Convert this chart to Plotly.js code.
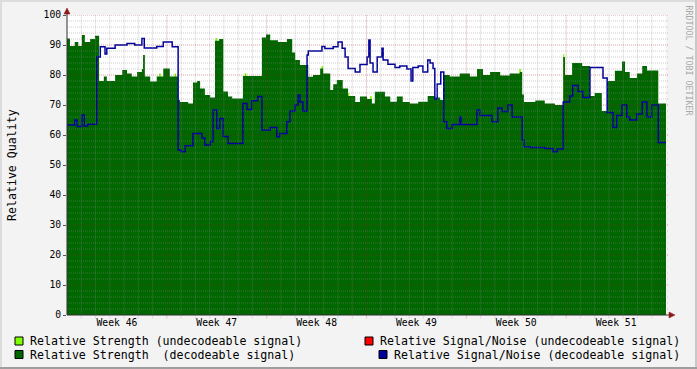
<!DOCTYPE html>
<html>
<head>
<meta charset="utf-8">
<script src="https://cdn.plot.ly/plotly-3.0.1.min.js"></script>
<style>
html,body{margin:0;padding:0;background:#F3F3F3;}
#chart{width:697px;height:369px;}
</style>
</head>
<body>
<div id="chart"></div>
<script>
// Time axis: hours since the start of Week 46 (6 weeks = 1008 h)
const END_HOUR = 1008;
const weekLabels = ['Week 46','Week 47','Week 48','Week 49','Week 50','Week 51'];
const weekCenters = [84, 252, 420, 588, 756, 924];
const yTickVals = [0,10,20,30,40,50,60,70,80,90,100];

// Relative Strength (decodeable signal): change times (h) and values
const strengthT = [0,5,13,19,25,30,39,47,54,62,67,81,93,101,109,118,126,128,131,140,151,162,173,187,190,204,212,219,224,232,241,249,256,263,271,278,296,328,335,342,355,370,379,384,392,406,414,426,431,443,448,454,464,473,485,493,505,513,518,535,544,555,565,577,591,607,619,628,633,644,661,678,690,700,712,729,745,762,766,769,788,804,821,835,838,850,867,880,888,900,909,922,934,939,947,959,968,976,995];
const strengthV = [92.2,89.7,91,89.7,93.3,91,92,93.1,78,79.5,78,80,81.7,80.5,79.5,81,82,86.7,79.5,77.8,79.5,82.2,79.5,71.7,71,70.5,77.5,78,75.5,73.3,72.5,91.4,92,74.5,72.8,72.2,79.7,92.5,93.5,91.6,91,92,87.5,85,83.3,79.4,80,82.2,80.5,75,76.9,78.3,75.5,73,71,72.8,72,70.5,74.4,72.8,71.1,72.8,71,70.5,71.1,73,72.5,71.7,80,79.5,80.5,79.5,82,80,81,79.8,80.5,81,73.5,71,71.5,70.5,70,86,80,84,83,73,74,68,78,81.4,84.5,81,79,80.5,83,81.5,70.5];

// Relative Strength (undecodeable signal): only the spots where it shows
const undecStrengthT = [0,155,158,181,184,250,253,299,302,428,431,472,475,510,513,761,764,835,837];
const undecStrengthV = [0,80.5,0,80.5,0,92.3,0,80.6,0,83,0,74,0,73,0,82,0,87,0];

// Relative Signal/Noise (decodeable signal)
const snrT = [0,13,17,25,29,35,50,56,64,67,81,101,114,126,130,151,162,177,187,192,199,212,227,232,241,246,252,257,263,271,296,303,311,321,328,342,353,358,370,375,384,389,392,397,404,406,429,434,448,456,463,468,473,485,493,505,508,510,515,522,530,532,540,552,560,572,579,582,591,599,607,611,616,619,623,629,634,639,648,661,663,690,695,715,725,732,742,749,766,769,779,804,818,825,835,846,851,860,868,880,902,909,919,925,934,942,947,959,968,976,984,995];
const snrV = [63.3,65,62.8,66.7,63,63.6,86,89.4,87,88.9,90,90.5,90,92.2,89,89.5,91,89.4,55,54.4,56.4,60.5,59,56.7,57.8,68.3,62.2,65.5,59.5,57.2,70.5,68.5,71.4,72.8,61.7,62.5,59.4,60.5,64.4,68,70,73.3,71,68,86.7,88,89.5,88.8,89.4,91,88.9,86,82.2,81,83.5,86,91.7,84,81,86,88.9,85,83.6,82.5,83,82,78,82.5,83,81,85,84,82.2,72,77,81,64.4,62.2,63.5,66,63.5,68.3,66.5,64.4,69,67.8,70,66,58.3,56.1,55.8,55.5,54.4,55.3,71,73,76.5,74.5,72.5,82.5,79,67.5,62.5,66.5,70,66,65,67,71,66,70,57.5];

const seriesNames = [
  'Relative Strength (undecodeable signal)',
  'Relative Signal/Noise (undecodeable signal)',
  'Relative Strength\u00a0 (decodeable signal)',
  'Relative Signal/Noise (decodeable signal)'
];
const seriesColors = ['#80FF00', '#FF0000', '#006600', '#00009C'];

function closeSteps(t, v) {
  return { x: t.concat([END_HOUR]), y: v.concat([v[v.length - 1]]) };
}

const su = closeSteps(undecStrengthT, undecStrengthV);
const sd = closeSteps(strengthT, strengthV);
const sn = closeSteps(snrT, snrV);

const traces = [
  {x: su.x, y: su.y, type: 'scatter', mode: 'lines', line: {shape: 'hv', width: 0, color: seriesColors[0]},
   fill: 'tozeroy', fillcolor: seriesColors[0], name: seriesNames[0], showlegend: false, hoverinfo: 'skip'},
  {x: sd.x, y: sd.y, type: 'scatter', mode: 'lines', line: {shape: 'hv', width: 0, color: seriesColors[2]},
   fill: 'tozeroy', fillcolor: seriesColors[2], name: seriesNames[2], showlegend: false, hoverinfo: 'skip'},
  {x: sn.x, y: sn.y, type: 'scatter', mode: 'lines', line: {shape: 'hv', width: 1.5, color: seriesColors[3]},
   name: seriesNames[3], showlegend: false, hoverinfo: 'skip'}
];

// pixel -> paper helpers for layout decorations
const PL = 67, PT = 15, PW = 599, PH = 300;
const px = x => (x - PL) / PW;
const py = y => (PT + PH - y) / PH;

const MINOR = 'rgba(140,140,140,0.42)';
const MAJOR = 'rgba(150,30,30,0.40)';
const shapes = [];
// vertical grid: every day, weeks in red
for (let h = 24; h < END_HOUR; h += 24) {
  const major = h % 168 === 0;
  shapes.push({type: 'line', xref: 'x', yref: 'paper', x0: h, x1: h, y0: -0.011, y1: 1,
    line: {color: major ? MAJOR : MINOR, width: 1, dash: '1px,1px'}, layer: 'above'});
}
// horizontal grid: every 2, every 10 in red
for (let v = 2; v <= 100; v += 2) {
  const major = v % 10 === 0;
  shapes.push({type: 'line', xref: 'paper', yref: 'y', x0: 0, x1: 1 + 3 / PW, y0: v, y1: v,
    line: {color: major ? MAJOR : MINOR, width: 1, dash: '1px,1px'}, layer: 'above'});
}
// axes with arrows
shapes.push({type: 'line', xref: 'paper', yref: 'paper', x0: px(67), x1: px(67), y0: py(315), y1: py(13),
  line: {color: '#303030', width: 1}, layer: 'above'});
shapes.push({type: 'line', xref: 'paper', yref: 'paper', x0: px(67), x1: px(670), y0: py(315), y1: py(315),
  line: {color: '#303030', width: 1}, layer: 'above'});
shapes.push({type: 'path', xref: 'paper', yref: 'paper',
  path: `M ${px(67)},${py(8)} L ${px(64)},${py(14)} L ${px(70)},${py(14)} Z`,
  fillcolor: '#8B1A1A', line: {color: '#8B1A1A', width: 0.5}, layer: 'above'});
shapes.push({type: 'path', xref: 'paper', yref: 'paper',
  path: `M ${px(675)},${py(315)} L ${px(669)},${py(312)} L ${px(669)},${py(318)} Z`,
  fillcolor: '#8B1A1A', line: {color: '#8B1A1A', width: 0.5}, layer: 'above'});
// frame
shapes.push({type: 'rect', xref: 'paper', yref: 'paper', x0: px(0), x1: px(697), y0: py(0), y1: py(2),
  fillcolor: '#DCDCDC', line: {width: 0}, layer: 'below'});
shapes.push({type: 'rect', xref: 'paper', yref: 'paper', x0: px(0), x1: px(2), y0: py(0), y1: py(369),
  fillcolor: '#DCDCDC', line: {width: 0}, layer: 'below'});
shapes.push({type: 'rect', xref: 'paper', yref: 'paper', x0: px(695), x1: px(697), y0: py(0), y1: py(369),
  fillcolor: '#C8C8C8', line: {width: 0}, layer: 'below'});
shapes.push({type: 'rect', xref: 'paper', yref: 'paper', x0: px(0), x1: px(697), y0: py(367), y1: py(369),
  fillcolor: '#9E9E9E', line: {width: 0}, layer: 'below'});

// legend
const legendItems = [
  {sq: 15, tx: 30, cy: 341, name: seriesNames[0], color: seriesColors[0]},
  {sq: 365, tx: 380, cy: 341, name: seriesNames[1], color: seriesColors[1]},
  {sq: 15, tx: 30, cy: 354.5, name: seriesNames[2], color: seriesColors[2]},
  {sq: 379, tx: 394, cy: 354.5, name: seriesNames[3], color: seriesColors[3]}
];
const annotations = [];
legendItems.forEach(it => {
  shapes.push({type: 'rect', xref: 'paper', yref: 'paper', x0: px(it.sq), x1: px(it.sq + 8),
    y0: py(it.cy + 4), y1: py(it.cy - 4), fillcolor: it.color, line: {color: '#000', width: 1}});
  annotations.push({xref: 'paper', yref: 'paper', x: px(it.tx), y: py(it.cy), xanchor: 'left', yanchor: 'middle',
    text: it.name, showarrow: false, borderpad: 0, borderwidth: 0,
    font: {family: 'DejaVu Sans Mono', size: 11.6, color: '#000'}});
});
annotations.push({xref: 'paper', yref: 'paper', x: px(12), y: py(165), text: 'Relative Quality',
  textangle: -90, showarrow: false, xanchor: 'center', yanchor: 'middle', borderpad: 0, borderwidth: 0,
  font: {family: 'DejaVu Sans Mono', size: 11.6, color: '#000'}});
annotations.push({xref: 'paper', yref: 'paper', x: px(688.5), y: py(60), text: 'RRDTOOL / TOBI OETIKER',
  textangle: 90, showarrow: false, xanchor: 'center', yanchor: 'middle', borderpad: 0, borderwidth: 0,
  font: {family: 'DejaVu Sans Mono', size: 8.3, color: '#A8A8A8'}});

const layout = {
  width: 697, height: 369,
  margin: {l: PL, r: 697 - PL - PW, t: PT, b: 369 - PT - PH, pad: 0},
  paper_bgcolor: '#F3F3F3',
  plot_bgcolor: '#FFFFFF',
  showlegend: false,
  font: {family: 'DejaVu Sans Mono', size: 9.7, color: '#000'},
  xaxis: {range: [0, END_HOUR], tickmode: 'array', tickvals: weekCenters, ticktext: weekLabels,
    showgrid: false, zeroline: false, showline: false, ticks: '', fixedrange: true,
    tickfont: {family: 'DejaVu Sans Mono', size: 9.7, color: '#000'}},
  yaxis: {range: [0, 100], tickmode: 'array', tickvals: yTickVals, showgrid: false, zeroline: false,
    showline: false, ticks: 'outside', ticklen: 3, tickcolor: '#555', tickwidth: 1, fixedrange: true,
    tickfont: {family: 'DejaVu Sans Mono', size: 9.7, color: '#000'}},
  shapes: shapes,
  annotations: annotations
};

Plotly.newPlot('chart', traces, layout, {displayModeBar: false, staticPlot: true});
</script>
</body>
</html>
